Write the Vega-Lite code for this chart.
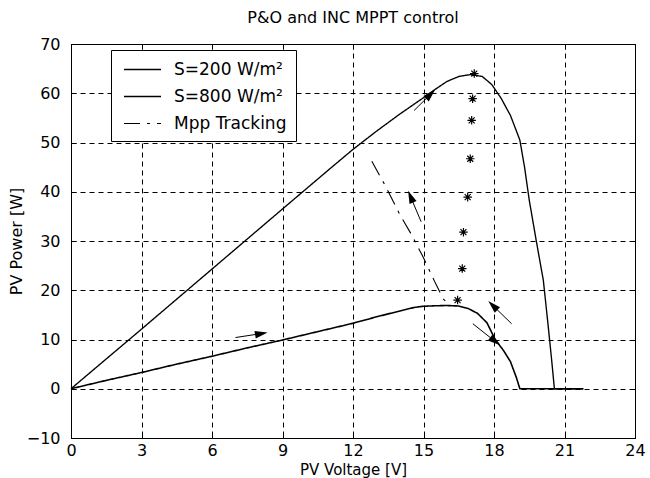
{
  "$schema": "https://vega.github.io/schema/vega-lite/v6.json",
  "width": 564,
  "height": 394,
  "autosize": "none",
  "padding": {"left": 71, "top": 44, "right": 15, "bottom": 40},
  "background": "white",
  "title": {"text": "P&O and INC MPPT control", "fontSize": 16, "fontWeight": "normal", "font": "DejaVu Sans", "color": "black", "offset": 10},
  "datasets": {
    "curves": [
      {"series": "S=200 W/m²", "v": 0, "p": 0},
      {"series": "S=200 W/m²", "v": 1.5, "p": 1.7},
      {"series": "S=200 W/m²", "v": 3, "p": 3.3},
      {"series": "S=200 W/m²", "v": 4.5, "p": 5.0},
      {"series": "S=200 W/m²", "v": 6, "p": 6.6},
      {"series": "S=200 W/m²", "v": 7.5, "p": 8.3},
      {"series": "S=200 W/m²", "v": 9, "p": 9.9},
      {"series": "S=200 W/m²", "v": 10.5, "p": 11.6},
      {"series": "S=200 W/m²", "v": 12, "p": 13.3},
      {"series": "S=200 W/m²", "v": 13, "p": 14.6},
      {"series": "S=200 W/m²", "v": 14, "p": 15.8},
      {"series": "S=200 W/m²", "v": 14.6, "p": 16.5},
      {"series": "S=200 W/m²", "v": 15, "p": 16.75},
      {"series": "S=200 W/m²", "v": 15.5, "p": 16.85},
      {"series": "S=200 W/m²", "v": 16, "p": 16.9},
      {"series": "S=200 W/m²", "v": 16.5, "p": 16.8},
      {"series": "S=200 W/m²", "v": 16.9, "p": 16.3},
      {"series": "S=200 W/m²", "v": 17.3, "p": 15.3},
      {"series": "S=200 W/m²", "v": 17.7, "p": 13.4},
      {"series": "S=200 W/m²", "v": 18.05, "p": 10.0},
      {"series": "S=200 W/m²", "v": 18.4, "p": 7.8},
      {"series": "S=200 W/m²", "v": 18.7, "p": 5.5},
      {"series": "S=200 W/m²", "v": 18.95, "p": 2.3},
      {"series": "S=200 W/m²", "v": 19.1, "p": 0},
      {"series": "S=200 W/m²", "v": 21.8, "p": 0},
      {"series": "S=800 W/m²", "v": 0, "p": 0},
      {"series": "S=800 W/m²", "v": 3, "p": 12.1},
      {"series": "S=800 W/m²", "v": 6, "p": 24.3},
      {"series": "S=800 W/m²", "v": 9, "p": 36.5},
      {"series": "S=800 W/m²", "v": 11, "p": 44.6},
      {"series": "S=800 W/m²", "v": 12, "p": 48.6},
      {"series": "S=800 W/m²", "v": 13, "p": 52.3},
      {"series": "S=800 W/m²", "v": 14, "p": 55.8},
      {"series": "S=800 W/m²", "v": 15, "p": 59.1},
      {"series": "S=800 W/m²", "v": 15.5, "p": 60.8},
      {"series": "S=800 W/m²", "v": 16, "p": 62.4},
      {"series": "S=800 W/m²", "v": 16.5, "p": 63.4},
      {"series": "S=800 W/m²", "v": 17, "p": 63.8},
      {"series": "S=800 W/m²", "v": 17.5, "p": 63.4},
      {"series": "S=800 W/m²", "v": 17.9, "p": 61.8},
      {"series": "S=800 W/m²", "v": 18.3, "p": 59},
      {"series": "S=800 W/m²", "v": 18.7, "p": 55.5},
      {"series": "S=800 W/m²", "v": 19.1, "p": 50.5},
      {"series": "S=800 W/m²", "v": 19.3, "p": 45},
      {"series": "S=800 W/m²", "v": 19.5, "p": 38.3},
      {"series": "S=800 W/m²", "v": 19.8, "p": 30},
      {"series": "S=800 W/m²", "v": 20.1, "p": 22},
      {"series": "S=800 W/m²", "v": 20.3, "p": 13},
      {"series": "S=800 W/m²", "v": 20.45, "p": 6},
      {"series": "S=800 W/m²", "v": 20.57, "p": 0},
      {"series": "S=800 W/m²", "v": 21.8, "p": 0},
      {"series": "Mpp Tracking", "v": 12.8, "p": 46.2},
      {"series": "Mpp Tracking", "v": 13.4, "p": 41},
      {"series": "Mpp Tracking", "v": 14.0, "p": 35.3},
      {"series": "Mpp Tracking", "v": 14.5, "p": 31.2},
      {"series": "Mpp Tracking", "v": 15.0, "p": 26.6},
      {"series": "Mpp Tracking", "v": 15.5, "p": 21.5},
      {"series": "Mpp Tracking", "v": 15.85, "p": 18.2},
      {"series": "Mpp Tracking", "v": 16.1, "p": 17.0}
    ],
    "stars": [
      {"v": 17.16, "p": 64},
      {"v": 17.09, "p": 58.9},
      {"v": 17.05, "p": 54.5},
      {"v": 16.99, "p": 46.7},
      {"v": 16.88, "p": 38.9},
      {"v": 16.7, "p": 31.8},
      {"v": 16.65, "p": 24.4},
      {"v": 16.45, "p": 18.0}
    ],
    "arrows": [
      {"id": 1, "v1": 7.0, "p1": 10.4, "v2": 8.1, "p2": 11.2},
      {"id": 2, "v1": 14.6, "p1": 56.5, "v2": 15.3, "p2": 59.8},
      {"id": 3, "v1": 14.9, "p1": 33.9, "v2": 14.45, "p2": 39.0},
      {"id": 4, "v1": 18.75, "p1": 13.2, "v2": 17.95, "p2": 16.9},
      {"id": 5, "v1": 17.1, "p1": 13.2, "v2": 18.05, "p2": 9.6}
    ]
  },
  "resolve": {"axis": {"x": "independent", "y": "independent"}},
  "layer": [
    {
      "layer": [
        {
          "data": {"name": "curves"},
          "mark": {"type": "line", "color": "black"},
          "encoding": {
            "x": {"field": "v", "type": "quantitative", "scale": {"domain": [0, 24], "nice": false, "zero": false},
                  "axis": {"values": [0, 3, 6, 9, 12, 15, 18, 21, 24], "title": "PV Voltage [V]", "labelPadding": 9, "titlePadding": 4, "titleFontSize": 15}},
            "y": {"field": "p", "type": "quantitative", "scale": {"domain": [-10, 70], "nice": false, "zero": false},
                  "axis": {"values": [-10, 0, 10, 20, 30, 40, 50, 60, 70], "title": "PV Power [W]", "labelPadding": 16, "titlePadding": 2}},
            "strokeWidth": {"field": "series", "type": "nominal",
              "scale": {"domain": ["S=200 W/m²", "S=800 W/m²", "Mpp Tracking"], "range": [1.6, 1.1, 1.1]}, "legend": null},
            "strokeDash": {"field": "series", "type": "nominal",
              "scale": {"domain": ["S=200 W/m²", "S=800 W/m²", "Mpp Tracking"], "range": [[1, 0], [1, 0], [16, 7, 3, 7]]},
              "legend": {"orient": "none", "legendX": 40, "legendY": 6, "title": null, "strokeColor": "black", "fillColor": "white",
                         "padding": 9, "symbolType": "M-1.95,0H1.95", "symbolSize": 361, "symbolOffset": 12, "symbolStrokeWidth": 1.2, "symbolStrokeColor": "black",
                         "labelFontSize": 17, "labelOffset": 21, "rowPadding": 8, "labelColor": "black", "cornerRadius": 0, "labelFont": "DejaVu Sans"}}
          }
        },
        {
          "data": {"name": "stars"},
          "mark": {"type": "point", "shape": "M0,-1L0,1M-1,0L1,0M-0.7,-0.7L0.7,0.7M-0.7,0.7L0.7,-0.7", "filled": false, "stroke": "black", "strokeWidth": 1.2, "size": 72, "opacity": 1},
          "encoding": {"x": {"field": "v", "type": "quantitative"}, "y": {"field": "p", "type": "quantitative"}}
        },
        {
          "data": {"name": "arrows"},
          "mark": {"type": "rule", "color": "black", "strokeWidth": 1},
          "encoding": {"x": {"field": "v1", "type": "quantitative"}, "y": {"field": "p1", "type": "quantitative"},
                       "x2": {"field": "v2"}, "y2": {"field": "p2"}}
        },
        {
          "data": {"name": "arrows"},
          "transform": [{"filter": "datum.id == 1"}],
          "mark": {"type": "point", "shape": "M1,0L-1,-0.6L-1,0.6Z", "filled": true, "color": "black", "size": 160, "angle": 350, "opacity": 1},
          "encoding": {"x": {"field": "v2", "type": "quantitative"}, "y": {"field": "p2", "type": "quantitative"}}
        },
        {
          "data": {"name": "arrows"},
          "transform": [{"filter": "datum.id == 2"}],
          "mark": {"type": "point", "shape": "M1,0L-1,-0.6L-1,0.6Z", "filled": true, "color": "black", "size": 160, "angle": 315, "opacity": 1},
          "encoding": {"x": {"field": "v2", "type": "quantitative"}, "y": {"field": "p2", "type": "quantitative"}}
        },
        {
          "data": {"name": "arrows"},
          "transform": [{"filter": "datum.id == 3"}],
          "mark": {"type": "point", "shape": "M1,0L-1,-0.6L-1,0.6Z", "filled": true, "color": "black", "size": 160, "angle": 247, "opacity": 1},
          "encoding": {"x": {"field": "v2", "type": "quantitative"}, "y": {"field": "p2", "type": "quantitative"}}
        },
        {
          "data": {"name": "arrows"},
          "transform": [{"filter": "datum.id == 4"}],
          "mark": {"type": "point", "shape": "M1,0L-1,-0.6L-1,0.6Z", "filled": true, "color": "black", "size": 160, "angle": 224, "opacity": 1},
          "encoding": {"x": {"field": "v2", "type": "quantitative"}, "y": {"field": "p2", "type": "quantitative"}}
        },
        {
          "data": {"name": "arrows"},
          "transform": [{"filter": "datum.id == 5"}],
          "mark": {"type": "point", "shape": "M1,0L-1,-0.6L-1,0.6Z", "filled": true, "color": "black", "size": 160, "angle": 38, "opacity": 1},
          "encoding": {"x": {"field": "v2", "type": "quantitative"}, "y": {"field": "p2", "type": "quantitative"}}
        }
      ]
    },
    {
      "data": {"name": "stars"},
      "mark": {"type": "point", "opacity": 0},
      "encoding": {
        "x": {"field": "v", "type": "quantitative", "axis": {"orient": "top", "values": [0, 3, 6, 9, 12, 15, 18, 21, 24], "labels": false, "grid": false, "title": null, "domain": true}},
        "y": {"field": "p", "type": "quantitative", "axis": {"orient": "right", "values": [-10, 0, 10, 20, 30, 40, 50, 60, 70], "labels": false, "grid": false, "title": null, "domain": true}}
      }
    }
  ],
  "config": {
    "font": "DejaVu Sans",
    "view": {"stroke": "black", "strokeWidth": 1},
    "axis": {
      "domainColor": "black", "domainWidth": 1,
      "grid": true, "gridColor": "black", "gridDash": [5, 4], "gridOpacity": 1, "gridWidth": 1,
      "ticks": true, "tickColor": "black", "tickSize": -5, "tickWidth": 1,
      "labelColor": "black", "labelFont": "DejaVu Sans", "labelFontSize": 16, "labelFlush": false, "labelOverlap": false,
      "titleColor": "black", "titleFont": "DejaVu Sans", "titleFontSize": 16, "titleFontWeight": "normal"
    }
  }
}
